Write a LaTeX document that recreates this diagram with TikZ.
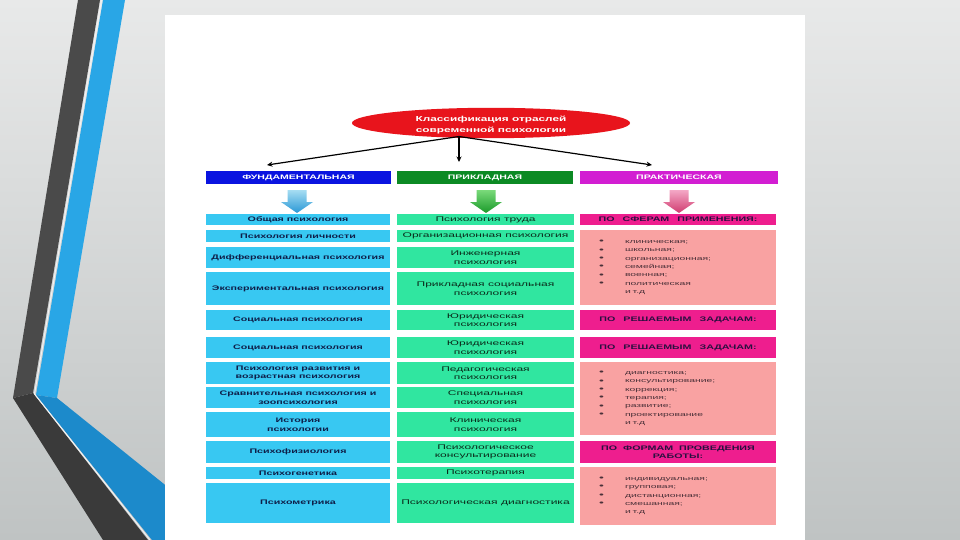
\documentclass[tikz,border=0pt]{standalone}
\usepackage{fontspec}
\setmainfont{Liberation Sans}
\newfontfamily\wf[FakeStretch=1.62]{Liberation Sans}
\newfontfamily\mf[FakeStretch=1.77]{Liberation Sans}
\newfontfamily\lf[FakeStretch=1.85]{Liberation Sans}
\usetikzlibrary{shapes.geometric,arrows.meta}

\definecolor{bgtop}{HTML}{E8E9E9}
\definecolor{bgbot}{HTML}{BFC3C3}
\definecolor{stripedark}{HTML}{4A4A4A}
\definecolor{stripedarkb}{HTML}{3A3A3A}
\definecolor{stripeblue}{HTML}{29A6E6}
\definecolor{stripeblueb}{HTML}{1C8ACB}
\definecolor{ellred}{HTML}{E8141C}
\definecolor{barblue}{HTML}{0A14E0}
\definecolor{bargreen}{HTML}{0C8A24}
\definecolor{barmag}{HTML}{D21ED2}
\definecolor{cyanbox}{HTML}{38C8F2}
\definecolor{greenbox}{HTML}{30E6A0}
\definecolor{pinkhead}{HTML}{EE1E8E}
\definecolor{pinklist}{HTML}{F9A2A2}
\definecolor{navytext}{HTML}{0E1E48}
\definecolor{greentext}{HTML}{0A2A1A}
\definecolor{headtext}{HTML}{2A1040}
\definecolor{listtext}{HTML}{4A3038}
\definecolor{arrLtop}{HTML}{A6DDF2}
\definecolor{arrLbot}{HTML}{2A98D6}
\definecolor{arrMtop}{HTML}{7ADA7A}
\definecolor{arrMbot}{HTML}{1A9A2A}
\definecolor{arrRtop}{HTML}{F4A8C6}
\definecolor{arrRbot}{HTML}{D03C70}

\newcommand\blockarrow[3]{%
  \shade[top color=#2, bottom color=#3]
    ({#1-9.5},190) -- ({#1+9.5},190) -- ({#1+9.5},202) -- ({#1+16},202)
    -- (#1,213) -- ({#1-16},202) -- ({#1-9.5},202) -- cycle;}
\newcommand\bul{\makebox[26pt][l]{\fontsize{7.5}{0}\selectfont\raisebox{-0.3pt}{•}}}
\newcommand\nob{\makebox[26pt][l]{}}

\tikzset{
  lbox/.style={rectangle, fill=cyanbox, minimum width=184pt, inner sep=0pt,
    align=center, text=navytext, font=\wf\bfseries\fontsize{6.6}{8.6}\selectfont},
  mbox/.style={rectangle, fill=greenbox, minimum width=177pt, inner sep=0pt,
    align=center, text=greentext, font=\mf\fontsize{6.8}{8.4}\selectfont},
  rhead/.style={rectangle, fill=pinkhead, minimum width=196pt, inner sep=0pt,
    align=center, text=headtext, font=\wf\bfseries\fontsize{6.6}{8.4}\selectfont},
  rlist/.style={rectangle, fill=pinklist, text width=158pt, inner xsep=19pt,
    inner ysep=0pt, align=left, text=listtext, font=\lf\fontsize{5.6}{8.4}\selectfont},
  catbar/.style={rectangle, minimum height=13pt, inner sep=0pt, text=white,
    font=\wf\bfseries\fontsize{6.5}{7}\selectfont},
  conn/.style={-{Stealth[length=5.5pt,width=5pt]}, line width=1.2pt, black},
  rootell/.style={ellipse, fill=ellred, minimum width=278pt, minimum height=28pt,
    inner sep=0pt, align=center, text=white, font=\wf\bfseries\fontsize{7.3}{10.5}\selectfont},
}

\begin{document}
\begin{tikzpicture}[x=1pt,y=-1pt]
\useasboundingbox (0,0) rectangle (960,540);
% background
\shade[top color=bgtop, bottom color=bgbot] (0,0) rectangle (960,540);
% decorative stripes
\fill[stripedark] (78,0) -- (100,0) -- (33,393) -- (13,398) -- cycle;
\fill[stripedarkb] (13,398) -- (33,393) -- (148,540) -- (103,540) -- cycle;
\fill[stripeblue] (103,0) -- (125,0) -- (57,398) -- (36,395) -- cycle;
\fill[stripeblueb] (36,395) -- (57,398) -- (200,513) -- (200,540) -- (152,540) -- cycle;
\draw[white!90!gray, line width=1pt] (101.5,0) -- (34.5,394) -- (150,540);
% white panel
\fill[white] (165,15) rectangle (805,540);

% root
\node[rootell] (root) at (491,123) {\rule{0pt}{9.5pt}Классификация отраслей\\современной психологии};
\coordinate (apex) at (459,136.5);
\coordinate (eL) at (267,165);
\coordinate (eM) at (459,162);
\coordinate (eR) at (652,165);
\draw[conn] (apex) -- (eL);
\draw[conn] (apex) -- (eM);
\draw[conn] (apex) -- (eR);

% category bars
\node[catbar, fill=barblue, minimum width=185pt] (fund) at (298.5,177.5) {ФУНДАМЕНТАЛЬНАЯ};
\node[catbar, fill=bargreen, minimum width=176pt] (prik) at (485,177.5) {ПРИКЛАДНАЯ};
\node[catbar, fill=barmag, minimum width=198pt] (prak) at (679,177.5) {ПРАКТИЧЕСКАЯ};

% block arrows
\blockarrow{297}{arrLtop}{arrLbot}
\blockarrow{486}{arrMtop}{arrMbot}
\blockarrow{679}{arrRtop}{arrRbot}

% left column
\node[lbox, minimum height=11pt] (l1) at (298,219.5) {Общая психология};
\node[lbox, minimum height=12pt] (l2) at (298,236) {Психология личности};
\node[lbox, minimum height=21pt] (l3) at (298,257.5) {Дифференциальная психология};
\node[lbox, minimum height=33pt] (l4) at (298,288.5) {Экспериментальная психология};
\node[lbox, minimum height=20pt] (l5) at (298,320) {Социальная психология};
\node[lbox, minimum height=21pt] (l6) at (298,347.5) {Социальная психология};
\node[lbox, minimum height=22pt] (l7) at (298,373) {Психология развития и\\возрастная психология};
\node[lbox, minimum height=21pt] (l8) at (298,397.5) {Сравнительная психология и\\зоопсихология};
\node[lbox, minimum height=25pt] (l9) at (298,424.5) {История\\психологии};
\node[lbox, minimum height=22pt] (l10) at (298,452) {Психофизиология};
\node[lbox, minimum height=12pt] (l11) at (298,473) {Психогенетика};
\node[lbox, minimum height=40pt] (l12) at (298,503) {Психометрика};

% middle column
\node[mbox, minimum height=11pt] (m1) at (485.5,219.5) {Психология труда};
\node[mbox, minimum height=12pt] (m2) at (485.5,236) {Организационная психология};
\node[mbox, minimum height=21pt] (m3) at (485.5,257.5) {Инженерная\\психология};
\node[mbox, minimum height=33pt] (m4) at (485.5,288.5) {Прикладная социальная\\психология};
\node[mbox, minimum height=20pt] (m5) at (485.5,320) {Юридическая\\психология};
\node[mbox, minimum height=21pt] (m6) at (485.5,347.5) {Юридическая\\психология};
\node[mbox, minimum height=22pt] (m7) at (485.5,373) {Педагогическая\\психология};
\node[mbox, minimum height=21pt] (m8) at (485.5,397.5) {Специальная\\психология};
\node[mbox, minimum height=25pt] (m9) at (485.5,424.5) {Клиническая\\психология};
\node[mbox, minimum height=22pt] (m10) at (485.5,452) {Психологическое\\консультирование};
\node[mbox, minimum height=12pt] (m11) at (485.5,473) {Психотерапия};
\node[mbox, minimum height=40pt] (m12) at (485.5,503) {Психологическая диагностика};

% right column
\node[rhead, minimum height=11pt] (h1) at (678,219.5) {ПО\hspace{8pt}СФЕРАМ\hspace{8pt}ПРИМЕНЕНИЯ:};
\node[rlist, minimum height=75pt] (r1) at (678,267.5) {\bul клиническая;\\\bul школьная;\\\bul организационная;\\\bul семейная;\\\bul военная;\\\bul политическая\\\nob и т.д};
\node[rhead, minimum height=20pt] (h2) at (678,320) {ПО\hspace{8pt}РЕШАЕМЫМ\hspace{8pt}ЗАДАЧАМ:};
\node[rhead, minimum height=21pt] (h3) at (678,347.5) {ПО\hspace{8pt}РЕШАЕМЫМ\hspace{8pt}ЗАДАЧАМ:};
\node[rlist, minimum height=73pt] (r2) at (678,398.5) {\bul диагностика;\\\bul консультирование;\\\bul коррекция;\\\bul терапия;\\\bul развитие;\\\bul проектирование\\\nob и т.д};
\node[rhead, minimum height=22pt] (h4) at (678,452) {ПО\hspace{6pt}ФОРМАМ\hspace{6pt}ПРОВЕДЕНИЯ\\РАБОТЫ:};
\node[rlist, minimum height=58pt] (r3) at (678,496) {\bul индивидуальная;\\\bul групповая;\\\bul дистанционная;\\\bul смешанная;\\\nob и т.д};
\end{tikzpicture}
\end{document}
